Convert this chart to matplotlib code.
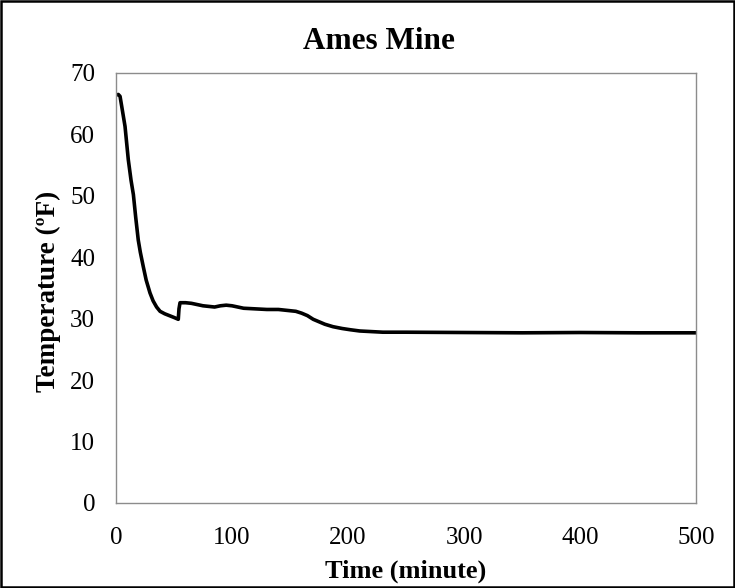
import matplotlib.pyplot as plt
from matplotlib.patches import Rectangle

# temperature record
time_min = [0, 2, 3.5, 5, 7.8, 10.6, 13, 15, 17, 19.2, 21, 23.5, 26, 29.3, 32, 35, 38,
            42, 46, 50, 53.7, 54.3, 55.2, 60, 65, 70, 75, 80, 85, 90, 95, 100, 105,
            110, 120, 130, 140, 150, 155, 160, 165, 170, 175, 180, 187, 195, 202,
            210, 220, 230, 250, 300, 350, 400, 450, 500]
temp_f = [66.4, 66.5, 66.2, 64.5, 61.3, 55.9, 52.5, 50.2, 46.5, 42.8, 40.8, 38.5, 36.3,
          34.2, 32.9, 31.9, 31.2, 30.8, 30.5, 30.2, 29.9, 31.6, 32.6, 32.6, 32.5, 32.3,
          32.1, 32.0, 31.9, 32.1, 32.2, 32.1, 31.9, 31.7, 31.6, 31.5, 31.5, 31.3, 31.2,
          30.9, 30.5, 29.9, 29.5, 29.1, 28.7, 28.4, 28.2, 28.0, 27.9, 27.8, 27.8, 27.75,
          27.7, 27.75, 27.7, 27.7]

x_ticks = [0, 100, 200, 300, 400, 500]
y_ticks = [0, 10, 20, 30, 40, 50, 60, 70]

plt.rcParams['font.family'] = ['Liberation Serif', 'DejaVu Serif']

fig = plt.figure(figsize=(7.35, 5.88), dpi=100)
ax = fig.add_axes([0.1578, 0.1446, 0.7892, 0.7313])

ax.plot(time_min, temp_f, color='black', linewidth=2.6, solid_joinstyle='round')

ax.set_xlim(0, 500)
ax.set_ylim(0, 70)
ax.set_xticks(x_ticks)
ax.set_yticks(y_ticks)
ax.tick_params(length=0, labelsize=18)
ax.tick_params(axis='x', pad=17)
ax.tick_params(axis='y', pad=15)

for s in ax.spines.values():
    s.set_color('#8c8c8c')
    s.set_linewidth(1.0)

# title sits a little right of the plot centre, as in the original
fig.text(378.5 / 735, 0.929, "Ames Mine", fontsize=22.5, fontweight='bold',
         ha='center', va='center')

ax.set_xlabel("Time (minute)", fontsize=19, fontweight='bold')
ax.xaxis.label.set_va('center')
ax.xaxis.set_label_coords(0.5, -0.16)

ax.set_ylabel("Temperature (ºF)", fontsize=19.5, fontweight='bold')
ax.yaxis.label.set_va('center')
ax.yaxis.set_label_coords(-0.117, 0.493)

# outer frame around the whole figure
fig.patches.append(Rectangle((0.001, 0.001), 0.997, 0.997, transform=fig.transFigure,
                             fill=False, edgecolor='black', linewidth=1.8))

fig.savefig("out.png", dpi=100)
